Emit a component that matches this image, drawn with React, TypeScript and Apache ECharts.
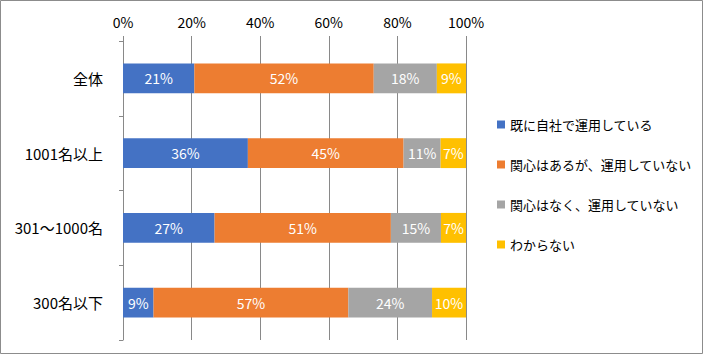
import React, { useEffect, useRef } from "react";
import * as echarts from "echarts";

const categories = ["全体", "1001名以上", "301～1000名", "300名以下"];
const seriesNames = [
  "既に自社で運用している",
  "関心はあるが、運用していない",
  "関心はなく、運用していない",
  "わからない",
];
const already = [20.8, 36.4, 26.7, 8.9];
const interestedNot = [52.3, 45.4, 51.4, 56.8];
const notInterested = [18.4, 10.8, 14.6, 24.4];
const unknown = [8.5, 7.4, 7.3, 9.9];
const colors = ["#4472C4", "#ED7D31", "#A5A5A5", "#FFC000"];
const xTicks = [0, 20, 40, 60, 80, 100];

const FONT = "'Noto Sans CJK JP', sans-serif";

export default function App() {
  const ref = useRef<HTMLDivElement>(null);
  useEffect(() => {
    document.body.style.margin = "0";
    const chart = echarts.init(ref.current!, null, { renderer: "svg" });
    const values = [already, interestedNot, notInterested, unknown];
    chart.setOption({
      animation: false,
      textStyle: { fontFamily: FONT },
      graphic: [
        {
          type: "rect",
          shape: { x: 0.5, y: 0.5, width: 702, height: 353 },
          style: { fill: "none", stroke: "#8c8c8c", lineWidth: 1 },
          silent: true,
        },
      ],
      grid: { left: 123, right: 237, top: 41, bottom: 14 },
      legend: {
        orient: "vertical",
        left: 492,
        top: 113,
        itemWidth: 8,
        itemHeight: 8,
        itemGap: 27,
        icon: "rect",
        data: seriesNames,
        textStyle: { fontSize: 13, color: "#000", fontFamily: FONT },
      },
      xAxis: {
        type: "value",
        position: "top",
        min: xTicks[0],
        max: xTicks[xTicks.length - 1],
        interval: 20,
        axisLine: { show: false },
        axisTick: { show: true, length: 5, lineStyle: { color: "#898989" } },
        splitLine: { show: true, lineStyle: { color: "#898989", width: 1 } },
        axisLabel: {
          formatter: "{value}%",
          color: "#000",
          fontSize: 14,
          margin: 12,
          fontFamily: FONT,
        },
      },
      yAxis: {
        type: "category",
        inverse: true,
        data: categories,
        axisLine: { show: true, lineStyle: { color: "#898989" } },
        axisTick: { show: true, length: 4, lineStyle: { color: "#898989" } },
        axisLabel: { color: "#000", fontSize: 15, margin: 20, fontFamily: FONT },
      },
      series: seriesNames.map((name, i) => ({
        name,
        type: "bar",
        stack: "total",
        barWidth: "40%",
        data: values[i],
        itemStyle: { color: colors[i] },
        label: {
          show: true,
          position: "inside",
          color: "#fff",
          fontSize: 14,
          fontFamily: FONT,
          formatter: (p: any) => Math.round(p.value) + "%",
        },
      })),
    });
    return () => chart.dispose();
  }, []);
  return <div ref={ref} style={{ width: 703, height: 354 }} />;
}
